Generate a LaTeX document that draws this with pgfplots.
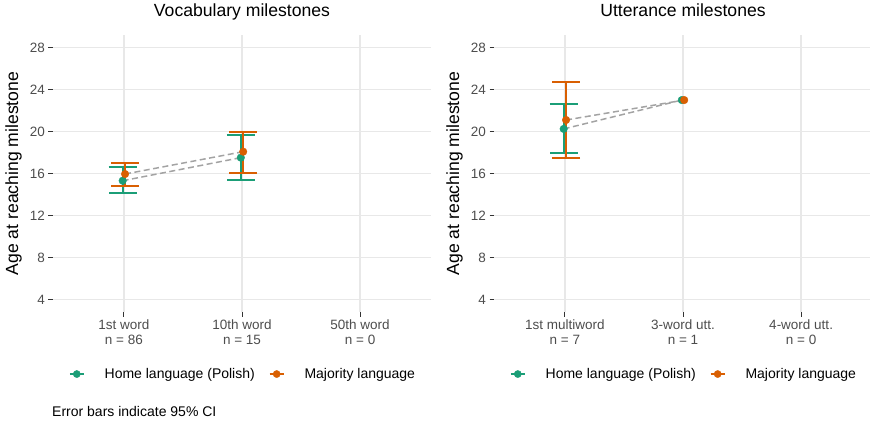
\documentclass[border=0pt]{standalone}
\usepackage{pgfplots}
\pgfplotsset{compat=1.18}
\usepackage{fontspec}
\setmainfont{Liberation Sans}
\definecolor{homec}{HTML}{1B9E77}
\definecolor{majc}{HTML}{D95F02}
\definecolor{gridc}{HTML}{E8E8E8}
\definecolor{tickc}{HTML}{4D4D4D}
\definecolor{dashc}{HTML}{A3A3A3}
\pgfplotsset{
  panel/.style={
    scale only axis, width=378pt, height=277pt,
    xmin=0.4, xmax=3.6, ymin=2.8, ymax=29.2,
    xtick={1,2,3}, ytick={4,8,...,28},
    axis line style={draw=none},
    grid=major, major grid style={gridc, line width=1.3pt},
    tick align=outside, tick pos=left, major tick length=4.5pt,
    tick style={color=black!80, line width=0.9pt},
    ticklabel style={font=\fontsize{13.5}{15}\selectfont, color=tickc},
    /pgf/number format/assume math mode=true,
    xticklabel style={align=center},
    title style={font=\fontsize{17.6}{20}\selectfont, at={(0.5,1)}, anchor=base, yshift=12.4pt},
    ylabel={Age at reaching milestone},
    ylabel style={font=\fontsize{17.6}{20}\selectfont, at={(rel axis cs:-0.104,0.5)}, anchor=center},
    legend image code/.code={
      \draw[#1, line width=1.7pt] (0pt,0pt) -- (14pt,0pt);
      \fill[#1] (7pt,0pt) circle (3.6pt);
    },
    legend style={draw=none, fill=none, at={(0.5,-0.224)}, anchor=center,
      font=\fontsize{14}{15}\selectfont, nodes={inner sep=0pt},
      /tikz/every odd column/.append style={column sep=20pt},
      /tikz/every even column/.append style={column sep=14pt}},
    legend columns=2,
  },
  dashline/.style={dashc, line width=1.5pt, dash pattern=on 6pt off 3.5pt},
  grp/.style={color=#1, only marks, mark=*, mark size=3.8pt, mark options={fill=#1, draw=#1},
    error bars/.cd, y dir=both, y explicit,
    error bar style={line width=1.8pt, color=#1},
    error mark options={rotate=90, mark size=14pt, line width=1.8pt, color=#1},
    /pgfplots/.cd},
  pts/.style={color=#1, only marks, mark=*, mark size=3.8pt, mark options={fill=#1, draw=#1}},
}
\begin{document}
\begin{tikzpicture}
\useasboundingbox (0,0) rectangle (870pt,421pt);
% ---------- left panel ----------
\begin{axis}[panel, at={(53pt,109pt)}, anchor=south west,
  title={Vocabulary milestones},
  xticklabels={{1st word\\n = 86},{10th word\\n = 15},{50th word\\n = 0}}]
\addlegendimage{homec}\addlegendentry{Home language (Polish)}
\addlegendimage{majc}\addlegendentry{Majority language}
\addplot[dashline, forget plot] coordinates {(0.99,15.31) (1.99,17.51)};
\addplot[dashline, forget plot] coordinates {(1.01,15.95) (2.01,18.08)};
\addplot[grp=homec, forget plot] coordinates {
  (0.99,15.31) += (0,1.34) -= (0,1.14)
  (1.99,17.51) += (0,2.16) -= (0,2.13)
};
\addplot[grp=majc, forget plot] coordinates {
  (1.01,15.95) += (0,1.08) -= (0,1.11)
  (2.01,18.08) += (0,1.91) -= (0,2.00)
};
\end{axis}
% ---------- right panel ----------
\begin{axis}[panel, at={(494pt,109pt)}, anchor=south west,
  title={Utterance milestones},
  xticklabels={{1st multiword\\n = 7},{3-word utt.\\n = 1},{4-word utt.\\n = 0}}]
\addlegendimage{homec}\addlegendentry{Home language (Polish)}
\addlegendimage{majc}\addlegendentry{Majority language}
\addplot[dashline, forget plot] coordinates {(0.99,20.25) (1.99,23.0)};
\addplot[dashline, forget plot] coordinates {(1.01,21.10) (2.01,23.0)};
\addplot[grp=homec, forget plot] coordinates {
  (0.99,20.25) += (0,2.38) -= (0,2.32)
};
\addplot[pts=homec, forget plot] coordinates {(1.99,23.0)};
\addplot[grp=majc, forget plot] coordinates {
  (1.01,21.10) += (0,3.60) -= (0,3.59)
};
\addplot[pts=majc, forget plot] coordinates {(2.01,23.0)};
\end{axis}
\node[anchor=base west, inner sep=0pt, font=\fontsize{14}{15}\selectfont] at (52pt,4.3pt) {Error bars indicate 95\% CI};
\end{tikzpicture}
\end{document}
